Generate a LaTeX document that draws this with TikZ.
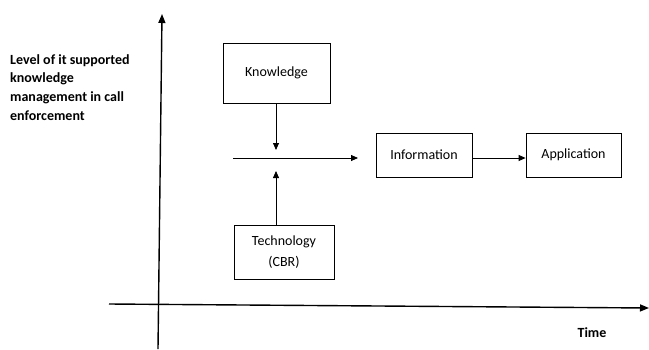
\documentclass[tikz,border=0pt]{standalone}
\usepackage{fontspec}
\setmainfont{Carlito}
\usetikzlibrary{arrows.meta}
\begin{document}
\begin{tikzpicture}[x=1pt,y=-1pt,
  box/.style={draw,line width=0.8pt,inner sep=0pt,font=\fontsize{14}{21}\selectfont,align=center},
  flow/.style={line width=0.8pt,-{Triangle[length=7pt,width=6pt]}},
  axis/.style={line width=1.4pt,-{Triangle[length=9pt,width=7pt]}},
  lbl/.style={font=\bfseries\fontsize{14}{18.7}\selectfont,inner sep=0pt}]
\useasboundingbox (0,0) rectangle (649,349);
% axes
\coordinate (yb) at (158,349);
\coordinate (yt) at (162,14);
\coordinate (xl) at (109,304);
\coordinate (xr) at (649,308);
\draw[axis] (yb) -- (yt);
\draw[axis] (xl) -- (xr);
% labels
\node[lbl,align=left,anchor=north west] (ylab) at (10,54) {Level of it supported\\knowledge\\management in call\\enforcement};
\node[lbl] (xlab) at (592,333) {Time};
% boxes
\node[box,minimum width=107pt,minimum height=60pt] (know) at (276.5,73) {Knowledge};
\node[box,minimum width=100pt,minimum height=54pt] (tech) at (284,252) {Technology\\(CBR)};
\node[box,minimum width=96pt,minimum height=44pt] (info) at (424,155) {Information};
\node[box,minimum width=95pt,minimum height=44pt] (app) at (573.5,155) {Application};
% junction line
\coordinate (m1) at (233,158);
\coordinate (m2) at (358,158);
\coordinate (j1) at (276,150);
\coordinate (j2) at (276,171);
\draw[flow] (m1) -- (m2);
\draw[flow] (know.south -| j1) -- (j1);
\draw[flow] (tech.north -| j2) -- (j2);
\draw[flow] ([yshift=-3pt]info.east) -- ([yshift=-3pt]app.west);
\end{tikzpicture}
\end{document}
